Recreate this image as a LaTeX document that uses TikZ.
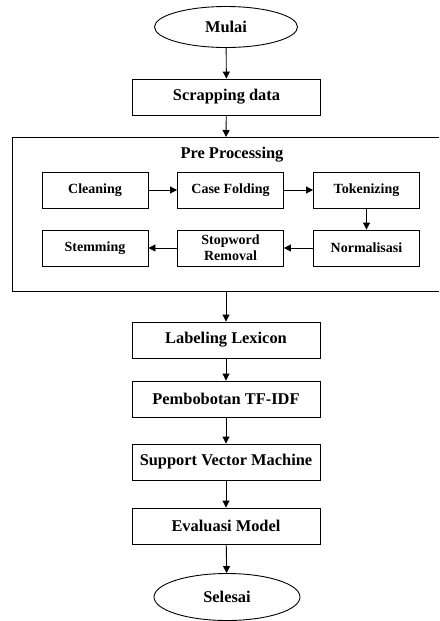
\documentclass[tikz,border=0pt]{standalone}
\usepackage{fontspec}
\setmainfont{Liberation Serif}
\usetikzlibrary{shapes.geometric,arrows.meta}
\begin{document}
\begin{tikzpicture}[x=1pt,y=-1pt,
  every node/.style={font=\bfseries\fontsize{16.4}{19}\selectfont, inner sep=0pt},
  mainbox/.style={draw, line width=0.9pt, minimum width=188pt, minimum height=36pt},
  subbox/.style={draw, line width=0.9pt, minimum width=106pt, minimum height=36pt,
     font=\bfseries\fontsize{14}{16}\selectfont, align=center},
  term/.style={draw, ellipse, line width=0.9pt, minimum width=143pt, minimum height=41pt},
  arr/.style={-{Triangle[length=7pt,width=7pt]}, line width=0.9pt}]
\useasboundingbox (0,0) rectangle (439,621);
\clip (0,0) rectangle (439,621);
\node[term] (mulai) at (226,27) {Mulai};
\node[mainbox] (scrap) at (226.5,97) {Scrapping data};
\node[draw, line width=1pt, minimum width=437pt, minimum height=154pt, anchor=north west] (pre) at (12,137) {};
\node (pretitle) at (232,155) {Pre Processing};
\node[subbox] (clean) at (95,190) {Cleaning};
\node[subbox] (case) at (230.5,190) {Case Folding};
\node[subbox] (token) at (366.5,190) {Tokenizing};
\node[subbox] (stem) at (95,248) {Stemming};
\node[subbox] (stop) at (230.5,248) {Stopword\\Removal};
\node[subbox] (norm) at (366.5,248) {Normalisasi};
\node[mainbox] (label) at (226,340) {Labeling Lexicon};
\node[mainbox] (tfidf) at (226,399) {Pembobotan TF-IDF};
\node[mainbox] (svm) at (226,462) {Support Vector Machine};
\node[mainbox] (eval) at (226,526) {Evaluasi Model};
\node[term, minimum width=146pt, minimum height=47pt] (selesai) at (227,597) {Selesai};
\coordinate (preb) at (226,291);
\coordinate (pret) at (226,137);
\draw[arr] (mulai) -- (scrap);
\draw[arr] (scrap) -- (pret);
\draw[arr] (clean) -- (case);
\draw[arr] (case) -- (token);
\draw[arr] (token) -- (norm);
\draw[arr] (norm) -- (stop);
\draw[arr] (stop) -- (stem);
\draw[arr] (preb) -- (label);
\draw[arr] (label) -- (tfidf);
\draw[arr] (tfidf) -- (svm);
\draw[arr] (svm) -- (eval);
\draw[arr] (eval) -- (selesai);
\end{tikzpicture}
\end{document}
